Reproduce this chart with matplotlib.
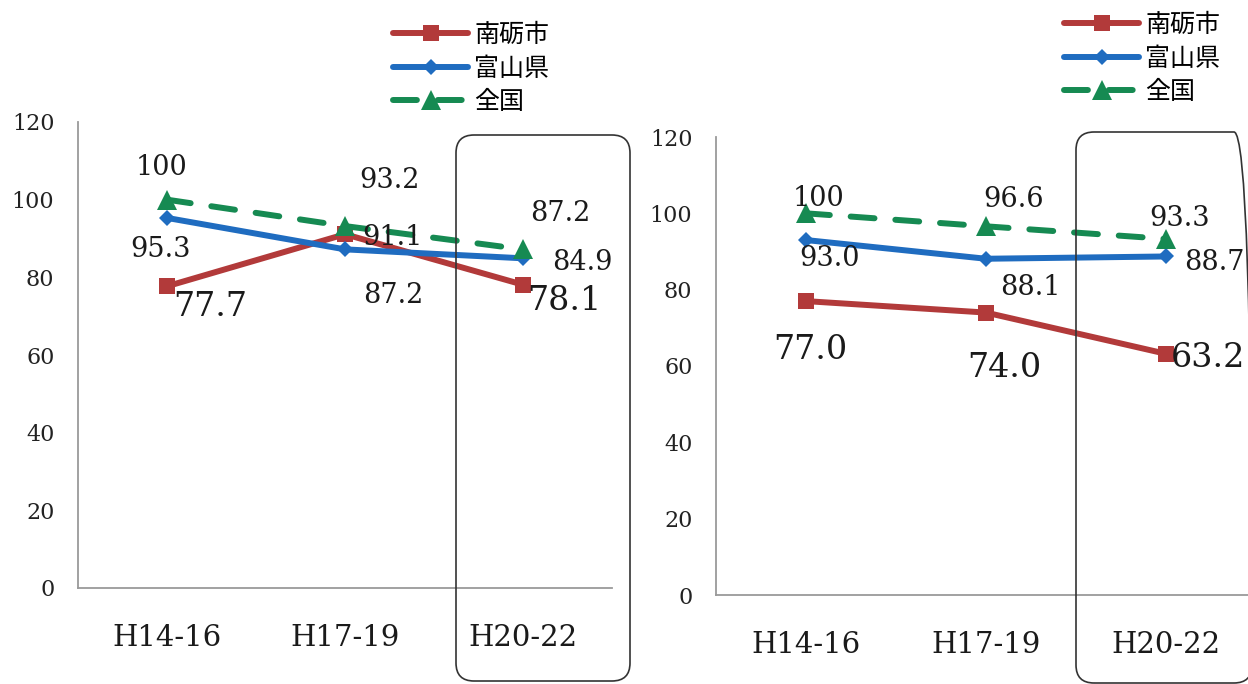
import matplotlib
matplotlib.use("Agg")
import matplotlib.pyplot as plt
from matplotlib.patches import FancyBboxPatch
from matplotlib.transforms import IdentityTransform

# ---- data ----
periods = ["H14-16", "H17-19", "H20-22"]
series_names = ["南砺市", "富山県", "全国"]

left_nanto = [77.7, 91.1, 78.1]
left_toyama = [95.3, 87.2, 84.9]
left_zenkoku = [100, 93.2, 87.2]

right_nanto = [77.0, 74.0, 63.2]
right_toyama = [93.0, 88.1, 88.7]
right_zenkoku = [100, 96.6, 93.3]

yticks = [0, 20, 40, 60, 80, 100, 120]

# ---- styling ----
RED = "#b23a3a"
BLUE = "#1f6cc0"
GREEN = "#168a52"
SERIF = ["DejaVu Serif"]
CJK = ["Noto Sans CJK JP", "DejaVu Sans"]

styles = [
    dict(color=RED, marker="s", markersize=12, linestyle="-", lw=4.3),
    dict(color=BLUE, marker="D", markersize=8, linestyle="-", lw=4.3),
    dict(color=GREEN, marker="^", markersize=14, linestyle=(0, (4, 3.5)), lw=4.3),
]

# label offsets in points (dx, dy, large?) for each series / period
left_offsets = [
    [(31, -15, True), (34, -2, False), (30, -12, True)],
    [(-5, -23, False), (35, -33, False), (43, -3, False)],
    [(-4, 23, False), (32, 33, False), (27, 26, False)],
]
right_offsets = [
    [(3, -35, True), (13, -40, True), (30, -3, True)],
    [(17, -13, False), (32, -21, False), (35, -4, False)],
    [(9, 11, False), (20, 19, False), (10, 15, False)],
]

W, H = 1248, 684
fig = plt.figure(figsize=(W / 100, H / 100), dpi=100)


def draw_panel(rect, series, offsets, xlim):
    ax = fig.add_axes(rect)
    xs = list(range(len(periods)))
    handles = []
    for vals, st, offs in zip(series, styles, offsets):
        (ln,) = ax.plot(xs, vals, color=st["color"], lw=st["lw"],
                        linestyle=st["linestyle"], marker=st["marker"],
                        markersize=st["markersize"], markeredgewidth=0,
                        solid_capstyle="round", dash_capstyle="round",
                        clip_on=False, zorder=3)
        handles.append(ln)
        for x, v, (dx, dy, big) in zip(xs, vals, offs):
            txt = f"{v:.1f}" if v != 100 else "100"
            ax.annotate(txt, xy=(x, v), xytext=(dx, dy),
                        textcoords="offset points", ha="center", va="center",
                        fontsize=24 if big else 19.5, family=SERIF,
                        color="#1a1a1a", zorder=4)
    ax.set_xlim(*xlim)
    ax.set_ylim(0, 120)
    ax.set_yticks(yticks)
    ax.set_yticklabels([str(t) for t in yticks], family=SERIF, fontsize=16,
                       color="#222222")
    ax.set_xticks(xs)
    ax.set_xticklabels(periods, family=SERIF, fontsize=21, color="#1a1a1a")
    ax.tick_params(length=0)
    ax.tick_params(axis="y", pad=17)
    ax.tick_params(axis="x", pad=26)
    for s in ["top", "right"]:
        ax.spines[s].set_visible(False)
    for s in ["left", "bottom"]:
        ax.spines[s].set_color("#9a9a9a")
        ax.spines[s].set_linewidth(1.3)
    ax.patch.set_alpha(0)
    return ax, handles


axL, hL = draw_panel([78 / W, 1 - 588 / H, 534 / W, 466 / H],
                     [left_nanto, left_toyama, left_zenkoku],
                     left_offsets, (-0.5, 2.5))
axR, hR = draw_panel([716 / W, 1 - 595 / H, 532 / W, 458 / H],
                     [right_nanto, right_toyama, right_zenkoku],
                     right_offsets, (-0.5, 2.456))


def add_legend(ax, handles, x0, y0):
    ax.legend(handles, series_names, loc="upper left",
              bbox_to_anchor=(x0 / W, 1 - y0 / H),
              bbox_transform=fig.transFigure, frameon=False,
              prop=dict(family=CJK, size=18), numpoints=1,
              handlelength=3.0, handletextpad=0.25, labelspacing=0.3,
              borderpad=0, borderaxespad=0)


add_legend(axL, hL, 393, 22)
add_legend(axR, hR, 1064, 12)


def add_box(x0, y0, x1, y1, r=18):
    # pixel coordinates measured from the top-left corner
    box = FancyBboxPatch((x0, H - y1), x1 - x0, y1 - y0,
                         boxstyle=f"round,pad=0,rounding_size={r}",
                         transform=IdentityTransform(), fill=False,
                         edgecolor="#333333", linewidth=1.2, zorder=5)
    fig.patches.append(box)


add_box(456, 135, 630, 681)
add_box(1076, 132, 1252, 683)

fig.savefig("out.png", dpi=100, facecolor="white")
